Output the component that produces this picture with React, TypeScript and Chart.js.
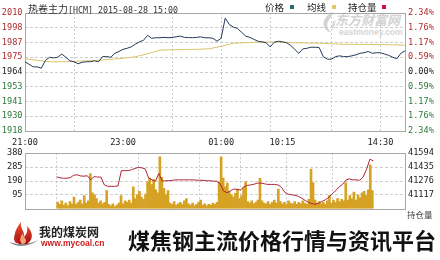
import { useEffect, useRef } from "react";
import { Chart, registerables } from "chart.js";

Chart.register(...registerables);

// Trading minutes of the day: night 21:00–01:00, then 09:00–10:15, 10:30–11:30, 13:30–15:00
const SESSION_MINUTES = 465;
const PRICE_STEP = 5;
const AVG_STEP = 15;
const OI_STEP = 5;
const VOLUME_STEP = 3;

// Last price, one value per 5 trading minutes
const priceValues = [
  1972, 1970, 1968, 1968, 1967, 1973, 1975.5, 1975, 1975.5, 1978,
  1975.5, 1972.7, 1972, 1970.4, 1971.6, 1972, 1972, 1972.7, 1972, 1976,
  1976, 1975.5, 1978.6, 1980, 1981.7, 1982.5, 1983.6, 1985.6, 1987.5, 1988.7,
  1992.6, 1990.3, 1990.7, 1990.7, 1991, 1990.7, 1991, 1991.4, 1992, 1991,
  1990.8, 1990.8, 1991, 1991.4, 1990.7, 1990.7, 1990.3, 1988, 1990.3, 2006,
  2001, 1999, 1998, 1995, 1992, 1991, 1989.5, 1988, 1987.5, 1986.8,
  1983.6, 1987.2, 1988, 1987.5, 1986.8, 1984.8, 1981.7, 1978.6, 1982, 1982.5,
  1983.3, 1983.3, 1983, 1976, 1974, 1974, 1976, 1976.6, 1976, 1976,
  1976.6, 1977.4, 1978.6, 1979, 1980, 1978.6, 1979, 1979, 1978, 1977,
  1975.5, 1974.3, 1978.6, 1980.5,
];

// Average price, one value per 15 trading minutes
const avgValues = [
  1974.4, 1973.1, 1972, 1972, 1972.3, 1972.7, 1973.1, 1973.9, 1974.7, 1975.9,
  1978.2, 1981, 1981.3, 1981.5, 1981.7, 1982.1, 1984, 1986.4, 1986.8, 1987.3,
  1987.4, 1987.3, 1986.8, 1986.6, 1986.5, 1986, 1985.6, 1985.6, 1985.4, 1985.4,
  1985.2, 1985,
];

// Open interest, one value per 5 trading minutes
const openInterest = [
  41324, 41312, 41307, 41308, 41315, 41342, 41347, 41334, 41331, 41336,
  41289, 41326, 41321, 41321, 41231, 41215, 41215, 41215, 41219, 41394,
  41394, 41394, 41405, 41420, 41431, 41426, 41415, 41310, 41289, 41273,
  41363, 41273, 41279, 41279, 41284, 41289, 41289, 41289, 41289, 41289,
  41289, 41286, 41284, 41284, 41279, 41279, 41275, 41273, 41247, 41163,
  41142, 41163, 41184, 41179, 41173, 41210, 41226, 41231, 41240, 41252,
  41252, 41244, 41237, 41237, 41237, 41231, 41205, 41147, 41126, 41118,
  41113, 41100, 41079, 41053, 41032, 41016, 41011, 41023, 41044, 41063,
  41091, 41133, 41168, 41210, 41239, 41289, 41300, 41289, 41289, 41284,
  41321, 41410, 41525, 41505,
];

// Traded volume, one bar per 3 trading minutes
const volumeValues = [
  45, 30, 55, 25, 40, 20, 50, 35, 80, 30,
  45, 60, 35, 90, 40, 55, 240, 110, 95, 70,
  40, 55, 35, 45, 125, 30, 20, 35, 15, 25,
  40, 90, 35, 55, 45, 60, 40, 150, 70, 95,
  120, 80, 65, 100, 185, 210, 165, 200, 130, 110,
  355, 215, 140, 95, 125, 40, 30, 50, 25, 35,
  45, 30, 55, 70, 35, 25, 40, 20, 30, 45,
  60, 25, 35, 20, 30, 25, 40, 30, 45, 185,
  355, 210, 150, 175, 120, 95, 80, 105, 135, 70,
  90, 146, 185, 50, 40, 55, 35, 45, 60, 208,
  55, 40, 35, 50, 30, 45, 60, 40, 135, 50,
  35, 45, 30, 55, 40, 35, 50, 30, 45, 35,
  55, 40, 30, 65, 271, 180, 60, 40, 50, 35,
  45, 30, 55, 93, 40, 60, 45, 70, 50, 65,
  55, 177, 60, 90, 70, 115, 60, 95, 75, 110,
  120, 90, 130, 300, 125,
];

const timeLabelMinutes = [0, 120, 240, 315, 435];
const timeLabels = ["21:00", "23:00", "01:00", "10:15", "14:30"];
const gridMinutes = [60, 180, 240, 300, 375, 435];

const priceTicks = [1918, 1929.5, 1941, 1952.5, 1964, 1975.5, 1987, 1998.5, 2010];
const priceTickLabels = ["1918", "1930", "1941", "1953", "1964", "1975", "1987", "1998", "2010"];
const pctTickLabels = ["2.34%", "1.76%", "1.17%", "0.59%", "0.00%", "0.59%", "1.17%", "1.76%", "2.34%"];

const volumeTicks = [0, 95, 190, 285, 380];
const volumeTickLabels = ["", "95", "190", "285", "380"];
const oiTicks = [40958, 41117, 41276, 41435, 41594];
const oiTickLabels = ["", "41117", "41276", "41435", "41594"];

const UP = "#b02a2a";
const DOWN = "#2a7a3a";
const FLAT = "#222";
const GRID = "#cdcdcd";
const CLEAR = "rgba(0,0,0,0)";
const tickFont = { family: '"DejaVu Sans Mono", monospace', size: 8.6 };
const CJK = '"Noto Sans CJK SC", sans-serif';

const levelColor = (i: number) => (i < 4 ? DOWN : i === 4 ? FLAT : UP);

const framePlugin = {
  id: "frame",
  beforeDatasetsDraw(chart: any) {
    const { ctx, chartArea: a } = chart;
    ctx.save();
    ctx.strokeStyle = "#a8a8a8";
    ctx.lineWidth = 1;
    ctx.strokeRect(
      Math.round(a.left) + 0.5,
      Math.round(a.top) + 0.5,
      Math.round(a.right - a.left),
      Math.round(a.bottom - a.top)
    );
    ctx.restore();
  },
};

function timeAxis(showLabels: boolean) {
  const tickValues = showLabels
    ? Array.from(new Set([...timeLabelMinutes, ...gridMinutes])).sort((a, b) => a - b)
    : gridMinutes;
  return {
    type: "linear",
    min: 0,
    max: SESSION_MINUTES,
    afterBuildTicks: (s: any) => {
      s.ticks = tickValues.map((v) => ({ value: v }));
    },
    afterFit: (s: any) => {
      s.height = showLabels ? 19 : 0;
    },
    grid: {
      drawTicks: false,
      color: (c: any) => (gridMinutes.includes(c.tick?.value) ? GRID : CLEAR),
    },
    border: { display: false, dash: [2, 2] },
    ticks: {
      display: showLabels,
      autoSkip: false,
      maxRotation: 0,
      minRotation: 0,
      padding: 7,
      color: FLAT,
      font: tickFont,
      callback: (v: number) => {
        const i = timeLabelMinutes.indexOf(v);
        return i >= 0 ? timeLabels[i] : "";
      },
    },
  };
}

function levelAxis(
  position: "left" | "right",
  values: number[],
  labels: string[],
  width: number,
  colorOf: (i: number) => string,
  drawGrid: boolean
) {
  return {
    type: "linear",
    position,
    min: values[0],
    max: values[values.length - 1],
    afterBuildTicks: (s: any) => {
      s.ticks = values.map((v) => ({ value: v }));
    },
    afterFit: (s: any) => {
      s.width = width;
    },
    grid: {
      display: drawGrid,
      drawTicks: false,
      color: (c: any) => (c.index === 0 || c.index === values.length - 1 ? CLEAR : GRID),
    },
    border: { display: false, dash: [3, 2] },
    ticks: {
      padding: position === "left" ? 2.5 : 3,
      font: tickFont,
      color: (c: any) => colorOf(c.index),
      callback: (_v: number, i: number) => labels[i],
    },
  };
}

const commonOptions = {
  responsive: false,
  animation: false,
  devicePixelRatio: 1,
  events: [],
  plugins: { legend: { display: false }, tooltip: { enabled: false } },
};

export default function App() {
  const topRef = useRef<HTMLCanvasElement>(null);
  const bottomRef = useRef<HTMLCanvasElement>(null);

  useEffect(() => {
    const priceChart = new Chart(topRef.current as HTMLCanvasElement, {
      type: "line",
      data: {
        datasets: [
          {
            data: priceValues.map((v, i) => ({ x: i * PRICE_STEP, y: v })),
            borderColor: "#26395a",
            borderWidth: 1,
            pointRadius: 0,
            order: 1,
            yAxisID: "y",
          },
          {
            data: avgValues.map((v, i) => ({ x: i * AVG_STEP, y: v })),
            borderColor: "#dcc46c",
            borderWidth: 1,
            pointRadius: 0,
            order: 2,
            yAxisID: "y",
          },
        ],
      },
      options: {
        ...commonOptions,
        layout: { padding: { top: 13, bottom: 0, left: 0, right: 0 } },
        scales: {
          x: timeAxis(true),
          y: levelAxis("left", priceTicks, priceTickLabels, 25, levelColor, true),
          y2: levelAxis("right", priceTicks, pctTickLabels, 35, levelColor, false),
        },
      } as any,
      plugins: [framePlugin],
    });

    const volumeChart = new Chart(bottomRef.current as HTMLCanvasElement, {
      type: "bar",
      data: {
        datasets: [
          {
            type: "line",
            data: openInterest.map((v, i) => ({ x: i * OI_STEP, y: v })),
            borderColor: "#ac2638",
            borderWidth: 1,
            pointRadius: 0,
            order: 1,
            yAxisID: "y2",
          },
          {
            type: "bar",
            data: volumeValues.map((v, i) => ({ x: i * VOLUME_STEP + VOLUME_STEP / 2, y: v })),
            backgroundColor: "#d6a224",
            barThickness: 2,
            grouped: false,
            order: 2,
            yAxisID: "y",
          },
        ],
      } as any,
      options: {
        ...commonOptions,
        layout: { padding: { top: 6, bottom: 5, left: 0, right: 0 } },
        scales: {
          x: timeAxis(false),
          y: levelAxis("left", volumeTicks, volumeTickLabels, 25, () => FLAT, true),
          y2: levelAxis("right", oiTicks, oiTickLabels, 35, () => FLAT, false),
        },
      } as any,
      plugins: [framePlugin],
    });

    return () => {
      priceChart.destroy();
      volumeChart.destroy();
    };
  }, []);

  const abs = (left: number, top: number, extra: any = {}) => ({
    position: "absolute" as const,
    left,
    top,
    whiteSpace: "nowrap" as const,
    ...extra,
  });

  return (
    <div
      style={{
        position: "fixed",
        left: 0,
        top: 0,
        width: 440,
        height: 260,
        background: "#fff",
        overflow: "hidden",
      }}
    >
      {/* eastmoney watermark behind the price plot */}
      <svg style={abs(320, 11)} width={16} height={22} viewBox="0 0 16 22">
        <path d="M13 1 C6 4 2 10 4 16 C5 19 8 21 11 21 C7 18 6 13 9 9 C10 7 12 5 13 1 Z" fill="#d3d3d3" />
        <path d="M15 8 C12 11 11 15 13 19 C15 15 16 12 15 8 Z" fill="#dcdcdc" />
      </svg>
      <div style={abs(335, 12, { fontFamily: CJK, fontSize: 13, fontWeight: 700, fontStyle: "italic", color: "#d3d3d3", lineHeight: "15px" })}>
        东方财富网
      </div>
      <div style={abs(339, 27, { fontFamily: '"Liberation Sans", Arial, sans-serif', fontSize: 8.5, fontWeight: 700, color: "#d6d6d6", lineHeight: "10px" })}>
        eastmoney.com
      </div>

      <canvas ref={topRef} width={440} height={150} style={abs(0, 0)} />
      <canvas ref={bottomRef} width={440} height={72} style={abs(0, 145)} />

      {/* title */}
      <div style={abs(28, 2, { fontFamily: CJK, fontSize: 10, color: "#333", lineHeight: "13px" })}>
        热卷主力
        <span style={{ fontFamily: '"DejaVu Sans Mono", monospace', fontSize: 8.3 }}>[HCM] 2015-08-28 15:00</span>
      </div>

      {/* legend */}
      <div style={abs(265, 1, { fontFamily: CJK, fontSize: 9.5, color: "#222", lineHeight: "12px" })}>价格</div>
      <div style={abs(290, 5, { width: 4, height: 4, background: "#2d6b6b" })} />
      <div style={abs(307, 1, { fontFamily: CJK, fontSize: 9.5, color: "#222", lineHeight: "12px" })}>均线</div>
      <div style={abs(332, 5, { width: 4, height: 4, background: "#e2c766" })} />
      <div style={abs(348, 1, { fontFamily: CJK, fontSize: 9.5, color: "#222", lineHeight: "12px" })}>持仓量</div>
      <div style={abs(382, 5, { width: 4, height: 4, background: "#d0103a" })} />

      <div style={abs(407, 209, { fontFamily: CJK, fontSize: 8.5, color: "#444", lineHeight: "10px" })}>持仓量</div>

      {/* footer banner */}
      <svg style={abs(6, 219)} width={34} height={31} viewBox="0 0 34 31">
        <defs>
          <linearGradient id="flame" x1="0" y1="0" x2="0" y2="1">
            <stop offset="0" stopColor="#f2522e" />
            <stop offset="1" stopColor="#a10f12" />
          </linearGradient>
        </defs>
        <path d="M3 23 Q15 32 33 21 Q17 28 3 23 Z" fill="#8a8a8a" />
        <path d="M13 25 C6 20 8 12 15 3 C14 10 19 12 18 18 C21 15 22 11 21 7 C28 14 27 21 21 25 Z" fill="url(#flame)" />
        <path d="M16 25 C13 22 14 18 17 14 C17 18 20 19 20 22 C20 24 18 25 16 25 Z" fill="#f7a27a" />
        <path d="M10 24 C7 21 8 17 10 14 C10 18 12 20 12 24 Z" fill="#c4201c" />
      </svg>
      <div style={abs(39, 225, { fontFamily: CJK, fontSize: 12, fontWeight: 700, color: "#222", lineHeight: "14px" })}>
        我的煤炭网
      </div>
      <div style={abs(41, 238, { fontFamily: '"Liberation Sans", Arial, sans-serif', fontSize: 8.5, fontWeight: 700, color: "#cc1f1f", lineHeight: "10px" })}>
        www.mycoal.cn
      </div>
      <div style={abs(128, 227, { fontFamily: CJK, fontSize: 22, fontWeight: 700, color: "#111", lineHeight: "24px" })}>
        煤焦钢主流价格行情与资讯平台
      </div>
    </div>
  );
}
